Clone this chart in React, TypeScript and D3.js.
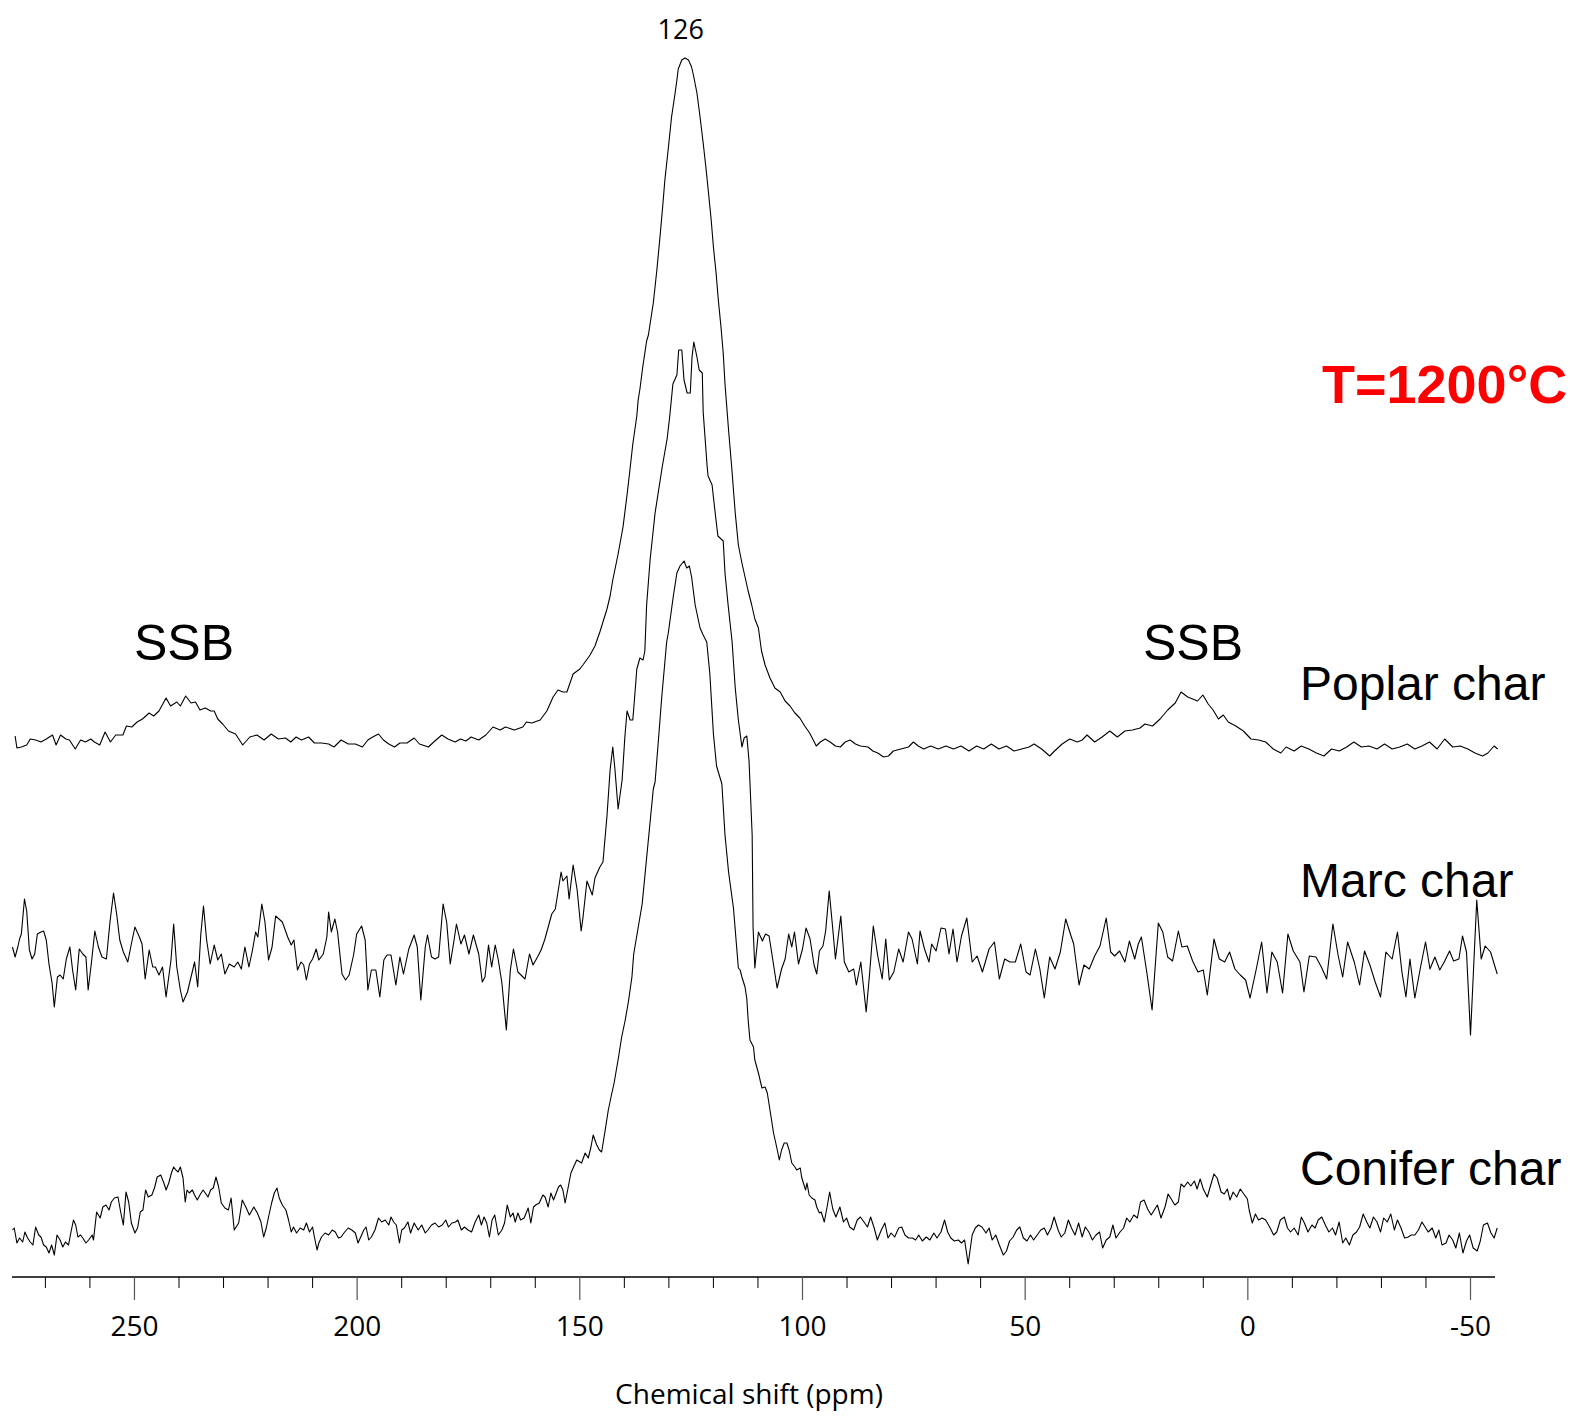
import React from "react";
import * as d3 from "d3";

// ---- data: [chemical shift (ppm), intensity above each trace's own baseline (a.u.)]
const poplar: [number, number][] = [
[276.8,9],[276.4,-3],[275.4,-2],[274.2,0],[273.4,6],[272.2,5],[271.0,3],[269.8,6],[268.4,10],[267.6,0],[266.6,10],[265.4,6],[264.6,5],[263.3,-4],[262.1,5],[261.0,3],[259.8,6],[259.0,3],[257.8,0],[256.6,13],[255.4,3],[254.2,10],[252.6,10],[251.8,19],[250.6,18],[249.4,23],[248.2,26],[246.7,32],[245.7,29],[244.5,34],[242.9,47],[241.9,39],[240.5,43],[239.7,39],[238.5,49],[237.3,42],[236.3,43],[235.3,35],[234.1,37],[232.9,34],[232.1,34],[231.3,26],[230.2,21],[228.9,14],[227.3,11],[225.7,0],[224.1,8],[222.5,10],[220.9,5],[219.3,11],[217.7,6],[216.1,7],[214.9,3],[213.7,8],[212.5,5],[210.9,8],[209.6,2],[208.0,2],[206.4,1],[205.2,-2],[203.6,5],[202.0,1],[200.4,1],[198.8,-2],[197.6,5],[196.5,8],[195.2,11],[194.1,5],[192.9,1],[191.6,-2],[190.4,2],[188.8,2],[187.2,7],[186.0,1],[184.0,-2],[182.8,3],[181.0,10],[179.6,6],[178.0,3],[176.8,6],[175.6,4],[174.4,8],[172.7,5],[171.1,10],[169.5,18],[167.9,15],[166.7,18],[164.7,15],[162.8,18],[162.0,23],[160.8,22],
[158.9,25],[157.4,34],[156.0,48],[154.9,55],[153.8,53],[152.9,53],[152.2,62],[151.5,71],[150.0,76],[149.3,80],[147.7,90],[146.6,99],[145.5,113],[143.9,136],[143.2,149],[142.6,165],[141.4,191],[140.3,218],[139.4,250],[138.8,273],[138.1,301],[137.2,329],[136.9,345],[136.5,356],[135.9,377],[135.0,404],[134.6,410],[133.5,442],[132.7,475],[132.0,508],[131.4,538],[130.9,565],[130.1,598],[129.4,628],[128.6,652],[128.2,665],[127.9,676],[127.1,685],[126.4,687],[125.6,685],[124.9,678],[124.4,668],[123.7,652],[123.0,628],[122.3,602],[121.7,578],[121.1,552],[120.5,525],[120.0,498],[119.4,472],[118.9,445],[118.3,418],[117.8,392],[117.4,361],[116.6,315],[115.9,278],[115.1,232],[114.4,200],[113.6,182],[112.9,168],[112.2,154],[111.4,140],[110.7,126],[109.9,117],[109.2,94],[108.4,80],[107.3,67],[106.2,57],[105.0,53],[103.9,44],[102.8,39],[101.7,32],[100.6,27],[99.5,19],[98.4,12],[97.7,6],
[96.9,-1],[96.0,3],[94.9,6],[93.8,3],[92.6,-1],[91.5,-2],[90.4,3],[89.3,5],[88.1,1],[87.0,-1],[85.3,-2],[84.2,-6],[83.1,-8],[81.8,-12],[80.7,-11],[79.6,-6],[77.9,-4],[76.2,-2],[75.1,3],[74.0,-1],[72.8,-4],[71.2,-1],[69.5,-4],[67.8,-1],[66.1,-4],[64.4,-1],[62.6,-6],[60.9,-1],[59.3,-4],[57.6,1],[55.9,-4],[54.2,-1],[52.5,-6],[50.8,-4],[49.1,-2],[48.0,1],[46.3,-4],[44.5,-11],[43.4,-6],[41.7,1],[40.0,6],[38.3,3],[37.2,5],[36.1,10],[34.4,3],[32.7,8],[31.0,14],[29.3,8],[27.6,14],[25.9,15],[24.2,17],[23.1,21],[21.4,19],[19.7,26],[18.0,35],[16.3,42],[15.0,53],[13.5,48],[12.4,46],[11.3,44],[10.1,50],[8.9,41],[7.8,35],[6.6,26],[5.5,30],[4.4,23],[2.7,19],[1.0,14],[-0.7,6],[-2.4,5],[-4.0,3],[-5.7,-4],[-7.4,-8],[-8.6,-2],[-10.4,-6],[-12.0,-1],[-13.7,-4],[-15.4,-8],[-17.1,-11],[-18.8,-4],[-20.5,-6],[-22.2,-2],[-23.8,3],[-25.5,-2],[-27.2,-1],[-29.0,-4],[-30.7,1],[-32.4,-4],[-34.1,-2],[-35.8,1],[-37.5,-4],[-39.1,-1],[-40.8,3],[-42.5,-4],[-44.2,6],[-46.0,-2],[-47.7,-1],[-49.4,-4],[-51.0,-8],[-52.7,-11],[-53.9,-8],[-55.3,-1],[-56.1,-4]
];

const marc: [number, number][] = [
[277.4,8],[276.8,-2],[276.2,8],[275.8,16],[275.4,21],[274.7,56],[274.2,44],[273.6,5],[273.0,-4],[272.4,1],[271.8,21],[271.0,23],[270.4,24],[269.8,15],[269.2,-9],[268.5,-28],[268.0,-52],[267.3,-22],[266.7,-20],[266.0,-24],[265.3,-4],[264.5,8],[263.9,-15],[263.2,-35],[262.4,6],[261.6,1],[260.9,-2],[260.4,-35],[259.7,-9],[258.9,24],[258.1,8],[257.3,-2],[256.3,-4],[255.5,33],[254.7,62],[254.0,41],[253.3,15],[252.5,3],[251.5,-7],[250.7,11],[249.9,28],[248.9,18],[248.3,11],[247.6,-24],[246.7,5],[245.9,-12],[245.3,-12],[244.5,-20],[243.7,-12],[242.9,-42],[241.8,-5],[241.2,31],[240.5,-12],[239.7,-35],[239.1,-47],[238.1,-37],[237.3,-22],[236.5,-7],[235.8,-32],[235.1,21],[234.5,49],[233.8,15],[233.0,-9],[232.1,10],[231.3,-5],[230.5,1],[229.7,-19],[228.7,-9],[227.6,-12],[226.8,-7],[226.0,-14],[225.2,8],[224.3,-12],[223.5,5],[222.8,23],[222.3,18],[221.4,51],[220.7,33],[219.9,-5],[219.1,8],[218.3,39],[216.8,33],[215.6,18],[214.8,10],[214.2,15],[213.4,-15],[212.6,-7],[212.0,-10],[211.4,-25],[210.7,-9],[210.0,-4],[209.2,6],[208.6,-5],[207.6,1],[206.8,18],[206.4,43],[205.8,23],[205.0,36],[204.4,23],[203.4,-19],[202.6,-25],[201.8,-20],[200.8,0],[200.1,21],[199.0,29],[198.2,15],[197.6,-35],[196.8,-15],[195.8,-15],[194.9,-42],[194.0,-5],[193.3,0],[192.4,0],[191.3,-30],[190.4,-2],[189.6,-19],[188.4,6],[187.2,20],[186.5,8],[185.7,-45],[184.7,8],[184.2,20],[183.3,-2],[182.5,-4],[181.7,-2],[180.7,51],[179.9,33],[179.1,-9],[178.3,13],[177.7,31],[176.7,11],[175.9,20],[174.9,1],[173.9,20],[172.7,1],[171.9,-27],[171.3,-22],[170.5,10],[169.8,-12],[169.0,10],[168.3,-5],[167.5,-28],[166.5,-75],[165.6,-15],[164.9,6],[163.9,-17],[162.3,-24],[161.3,1],[160.5,-10],[159.5,-2],[158.7,5],[157.9,15],[157.1,28],[156.3,41],[155.5,46],
[154.9,63],[154.2,83],[153.8,74],[152.9,79],[152.4,56],[151.5,90],[150.6,65],[149.7,24],[149.3,37],[148.4,74],[147.2,60],[146.6,77],[145.5,88],[144.8,93],[143.9,139],[143.2,185],[142.6,208],[142.1,185],[141.4,146],[140.5,175],[139.9,217],[139.4,244],[138.7,235],[138.1,235],[137.6,263],[137.2,286],[136.5,297],[135.8,295],[135.4,304],[135.0,350],[134.2,396],[133.1,442],[131.5,488],[130.4,516],[129.8,539],[129.1,571],[128.2,580],[127.8,605],[127.1,605],[126.6,575],[125.9,562],[125.2,562],[124.8,598],[124.4,613],[123.7,598],[123.2,585],[122.5,582],[122.3,543],[121.4,488],[121.2,479],[120.3,470],[119.6,442],[119.0,419],[117.8,414],[117.4,382],[116.7,350],[115.8,313],[115.1,267],[114.4,235],[113.6,208],[113.1,217],[112.5,219],[112.0,194],[111.3,120],[111.1,28],[110.7,-13],
[109.9,23],[109.0,14],[108.3,21],[107.5,19],[106.7,-4],[105.7,-33],[104.7,-14],[103.9,-4],[103.1,21],[102.4,8],[101.8,23],[100.9,-9],[100.0,6],[99.2,27],[98.3,16],[97.4,-10],[96.8,-19],[96.2,4],[95.4,9],[94.8,24],[94.0,64],[93.2,26],[92.6,-4],[91.4,39],[90.6,-7],[89.6,-17],[88.5,-14],[87.9,-30],[86.9,-7],[85.7,-57],[84.9,-17],[84.1,29],[83.1,-1],[82.1,-24],[81.3,16],[80.5,-25],[79.5,-17],[78.4,6],[77.4,-7],[76.2,23],[75.4,16],[74.2,-9],[73.6,24],[72.6,6],[71.6,-7],[71.0,11],[70.0,4],[68.9,27],[67.9,26],[67.1,1],[66.2,26],[65.3,-7],[64.3,19],[63.1,37],[61.9,-7],[60.8,-1],[59.6,-17],[58.1,6],[56.9,13],[55.8,-24],[54.6,-4],[53.4,-7],[52.2,-7],[51.0,11],[49.8,-17],[48.9,-20],[47.7,6],[46.7,-14],[45.7,-43],[44.5,-2],[43.3,-14],[42.1,3],[40.9,36],[39.7,19],[39.1,11],[37.9,-30],[36.8,-10],[35.6,-14],[34.4,-1],[33.2,9],[31.8,37],[30.8,3],[29.9,-1],[28.8,4],[27.6,-7],[26.6,14],[25.4,-4],[24.6,11],[23.9,18],[22.7,-17],[21.5,-55],[20.1,32],[19.1,23],[18.0,-2],[16.9,-6],[15.6,24],[14.8,8],[13.6,9],[12.4,-6],[11.2,-17],[10.0,-15],[9.1,-40],[7.6,16],[6.4,-4],[5.2,-7],[4.1,3],[2.9,-14],[1.7,-20],[0.5,-25],[-0.5,-43],[-1.9,-14],[-3.1,13],[-4.3,-38],[-5.4,3],[-6.6,-7],[-7.8,-38],[-9.0,21],[-10.2,4],[-11.7,-7],[-12.6,-37],[-13.8,-1],[-15.3,-2],[-16.5,-12],[-17.7,-24],[-19.1,31],[-20.3,-1],[-21.3,-22],[-22.4,13],[-23.9,-7],[-25.1,-30],[-26.2,4],[-27.4,-10],[-28.6,-27],[-29.8,-42],[-31.0,3],[-32.4,-4],[-33.6,23],[-34.6,-17],[-35.5,-42],[-36.4,-4],[-37.5,-43],[-38.7,-14],[-39.9,13],[-40.9,-14],[-42.0,-2],[-43.1,-15],[-44.1,-7],[-45.3,4],[-46.2,-6],[-47.4,-4],[-48.2,19],[-49.1,3],[-50.0,-80],[-51.4,55],[-52.4,-4],[-53.3,9],[-54.5,3],[-56.0,-19]
];

const conifer: [number, number][] = [
[277.4,2],[277.0,4],[276.4,-11],[275.8,-6],[275.1,-10],[274.6,0],[274.0,-6],[273.4,-10],[272.8,-13],[272.2,5],[271.5,-3],[271.0,-5],[270.4,-13],[269.8,-15],[269.2,-21],[268.6,-13],[268.0,-23],[267.4,-3],[266.7,-8],[266.1,-15],[265.5,-10],[264.8,-13],[264.3,-1],[263.7,12],[263.2,7],[262.7,-5],[262.1,-3],[261.6,-6],[260.9,-11],[260.3,-8],[259.5,-3],[259.2,-8],[258.5,20],[257.7,14],[257.1,25],[256.4,27],[255.7,22],[255.2,30],[254.5,34],[253.7,35],[253.1,20],[252.5,7],[251.9,40],[251.3,30],[250.7,9],[249.9,-1],[249.3,4],[248.7,20],[248.1,22],[247.5,42],[246.9,35],[246.1,37],[245.5,44],[244.9,55],[244.1,57],[243.4,49],[242.9,42],[242.3,49],[241.7,59],[241.2,65],[240.7,62],[240.2,60],[239.7,65],[239.1,54],[238.6,30],[238.2,42],[237.7,39],[237.0,42],[236.5,37],[235.9,32],[235.3,37],[234.6,42],[234.1,39],[233.5,35],[232.9,42],[232.3,44],[231.7,55],[231.1,45],[230.5,29],[229.7,24],[228.9,22],[228.3,34],[227.6,2],[226.6,9],[225.8,32],[225.0,25],[224.2,17],[223.2,25],[222.4,19],[221.6,10],[221.0,-5],[220.4,4],[219.9,15],[219.2,29],[218.6,39],[218.0,44],[217.5,34],[216.8,27],[216.0,22],[215.4,12],[214.8,0],[214.3,5],[213.6,-1],[212.8,4],[212.0,2],[211.4,9],[210.7,0],[210.0,5],[209.6,-5],[209.0,-18],[208.6,-11],[208.0,-5],[207.2,-1],[206.4,-3],[205.6,2],[204.9,0],[204.2,-6],[203.6,-5],[202.8,0],[202.0,4],[201.2,2],[200.4,-1],[199.8,-11],[199.2,-5],[198.5,2],[198.0,5],[197.4,-8],[196.8,-5],[196.0,2],[195.2,14],[194.5,10],[193.7,12],[192.9,7],[192.4,15],[191.8,10],[191.2,7],[190.5,-11],[190.0,2],[189.4,4],[188.6,10],[188.0,-1],[187.2,9],[186.3,2],[185.5,7],[184.7,-1],[184.1,2],[183.3,7],[182.5,9],[181.7,5],[180.9,7],[180.1,12],[179.5,5],[178.7,9],[177.9,10],[177.4,12],[176.6,2],[175.9,5],[175.1,2],[174.3,0],[173.5,10],[172.7,17],[172.1,7],[171.5,15],[170.9,9],[170.3,-5],[169.7,12],[169.1,17],[168.3,-3],[167.5,2],[166.9,9],[166.3,27],[165.6,15],[165.0,19],[164.5,10],[163.9,19],[163.3,12],[162.5,14],[161.6,24],[161.0,9],[160.4,25],[159.9,27],[159.1,29],
[158.3,37],[157.8,35],[157.1,25],[156.5,39],[155.9,32],[155.3,39],[154.8,45],[154.3,47],[153.8,42],[153.3,29],[152.6,45],[152.0,59],[151.5,64],[150.7,72],[149.6,69],[148.8,79],[148.1,74],[147.5,85],[147.0,97],[146.2,87],[145.6,82],[145.1,80],[144.3,102],[143.6,122],[142.8,139],[142.3,149],[141.3,175],[140.6,195],[139.8,212],[139.1,230],[138.3,255],[137.9,278],[136.0,328],[135.0,374],[133.5,443],[133.1,450],[132.4,489],[131.6,535],[130.5,590],[130.1,600],[129.0,636],[128.2,659],[127.5,666],[126.6,671],[126.0,664],[125.4,666],[124.9,655],[124.1,627],[123.0,604],[122.3,597],[121.5,590],[120.8,558],[120.0,498],[119.3,466],[118.1,448],[117.4,397],[116.6,360],[115.5,324],[114.4,264],[114.0,262],[113.6,255],[112.9,245],[112.5,233],[112.2,212],[111.8,192],[111.0,185],[110.7,172],[109.9,159],[109.1,144],[108.4,145],[107.9,139],[107.3,122],[106.5,99],[105.8,85],[105.2,72],[104.7,82],[104.1,89],[103.5,89],[103.0,82],[102.4,69],[101.7,65],[101.3,62],[100.5,64],[100.2,55],[99.8,49],[99.3,42],[99.0,49],[98.5,37],[97.9,34],[97.2,32],[96.8,25],[96.2,19],
[95.8,20],[95.1,10],[94.4,27],[93.9,40],[93.2,23],[92.5,15],[91.6,25],[90.8,10],[90.1,14],[89.4,5],[88.5,2],[87.7,12],[87.0,15],[86.2,10],[85.4,5],[84.7,15],[83.9,4],[83.2,-8],[82.3,2],[81.5,9],[80.8,-6],[80.1,-1],[79.3,-5],[78.4,4],[77.7,5],[77.0,-3],[76.2,-6],[75.3,-6],[74.6,-8],[73.9,-3],[73.1,-9],[72.2,-5],[71.4,-8],[70.5,-1],[69.8,-6],[68.9,0],[68.1,12],[67.4,0],[66.7,-6],[65.9,-9],[65.0,-8],[64.3,-11],[63.6,-8],[62.8,-32],[61.9,-3],[61.2,4],[60.5,7],[59.7,5],[58.8,-1],[58.1,4],[57.4,-8],[56.6,-3],[55.8,-13],[54.9,-23],[54.2,-19],[53.5,-9],[52.7,-5],[51.9,2],[51.2,5],[50.4,-6],[49.6,-9],[48.8,-3],[48.1,-8],[47.3,-3],[46.5,2],[45.7,4],[45.0,-3],[44.2,4],[43.5,15],[42.6,2],[41.9,-5],[41.1,-1],[40.3,12],[39.6,4],[38.8,-3],[38.0,9],[37.2,-5],[36.5,5],[35.7,0],[34.9,-8],[34.1,-3],[33.3,0],[32.6,-16],[31.8,-8],[31.0,-5],[30.3,7],[29.6,-6],[28.7,0],[27.9,4],[27.2,14],[26.5,10],[25.6,17],[24.8,14],[24.1,30],[23.3,32],[22.5,23],[21.7,17],[21.0,22],[20.3,27],[19.5,14],[18.6,25],[17.9,38],[17.2,33],[16.4,27],[15.6,30],[15.0,48],[14.3,45],[13.5,50],[12.8,46],[12.0,51],[11.4,43],[10.7,53],[10.0,43],[9.1,35],[8.4,46],[7.6,58],[6.9,54],[6.0,40],[5.3,38],[4.6,43],[4.0,32],[3.3,40],[2.5,35],[1.7,43],[0.9,38],[0.1,33],[-0.3,22],[-1.0,9],[-1.7,18],[-2.4,12],[-3.2,14],[-4.0,12],[-4.9,5],[-5.8,-3],[-6.5,0],[-7.3,12],[-8.2,15],[-8.9,4],[-9.6,0],[-10.4,4],[-11.3,-3],[-12.0,15],[-12.7,9],[-13.5,0],[-14.4,7],[-15.1,4],[-15.8,12],[-16.6,15],[-17.4,7],[-18.2,0],[-19.0,4],[-19.7,-3],[-20.5,10],[-21.3,-11],[-22.0,-6],[-22.8,-13],[-23.6,-3],[-24.4,0],[-25.1,5],[-25.9,18],[-26.7,10],[-27.4,4],[-28.2,15],[-29.0,10],[-29.8,0],[-30.5,14],[-31.3,10],[-32.1,18],[-32.9,2],[-33.6,12],[-34.4,4],[-35.2,-6],[-36.0,-5],[-36.7,-3],[-37.5,-3],[-38.3,2],[-39.1,10],[-39.8,5],[-40.5,0],[-41.4,4],[-42.2,-6],[-42.9,2],[-43.6,-13],[-44.5,-11],[-45.2,-3],[-46.0,-8],[-46.7,-16],[-47.5,-1],[-48.3,-21],[-49.1,-9],[-49.8,-3],[-50.6,-16],[-51.5,-19],[-52.2,-9],[-52.9,7],[-53.8,9],[-54.6,-1],[-55.3,-6],[-56.0,4]
];

const seriesNames = ["Poplar char", "Marc char", "Conifer char"];
const seriesOffsets = [532, 322, 45]; // vertical stacking offsets (a.u.)
const majorTicks = [250, 200, 150, 100, 50, 0, -50];
const minorTicks = [270, 260, 240, 230, 220, 210, 190, 180, 170, 160, 140, 130, 120, 110, 90, 80, 70, 60, 40, 30, 20, 10, -10, -20, -30, -40];
const peakLabel = "126";
const axisTitle = "Chemical shift (ppm)";
const tempLabel = "T=1200°C";
const ssbLabel = "SSB";

export default function App() {
  const W = 1570, H = 1417;
  const axisY = 1277;
  const x = d3.scaleLinear().domain([277.5, -55.5]).range([12, 1495]);
  const y = d3.scaleLinear().domain([0, 1277]).range([axisY, 0]);
  const all = [poplar, marc, conifer];
  const sans = "'Liberation Sans', Arial, sans-serif";
  const cal = "'Open Sans', 'Noto Sans', sans-serif";

  const labelY = [700, 897, 1185];

  return (
    <svg width={W} height={H} style={{ position: "absolute", left: 0, top: 0, background: "#fff" }}>
      {all.map((data, i) => {
        const line = d3
          .line<[number, number]>()
          .x((d) => x(d[0]))
          .y((d) => y(seriesOffsets[i] + d[1]));
        return (
          <path key={i} d={line(data) || ""} fill="none" stroke="#000" strokeWidth={1.1} strokeLinejoin="round" />
        );
      })}
      {/* axis */}
      <line x1={x(277.5)} x2={x(-55.5)} y1={axisY} y2={axisY} stroke="#000" strokeWidth={1.4} />
      {minorTicks.map((t) => (
        <line key={"m" + t} x1={x(t)} x2={x(t)} y1={axisY} y2={axisY + 11} stroke="#000" strokeWidth={1} />
      ))}
      {majorTicks.map((t) => (
        <line key={"M" + t} x1={x(t)} x2={x(t)} y1={axisY} y2={axisY + 23} stroke="#555" strokeWidth={1.2} />
      ))}
      {majorTicks.map((t) => (
        <text key={"l" + t} x={x(t)} y={1336} textAnchor="middle" fontFamily={cal} fontSize={28} fill="#000">
          {String(t)}
        </text>
      ))}
      <text x={749} y={1404} textAnchor="middle" fontFamily={cal} fontSize={28} fill="#000">{axisTitle}</text>
      <text x={x(126)} dx={-6} y={39} textAnchor="middle" fontFamily={cal} fontSize={27} fill="#000">{peakLabel}</text>
      <text x={184} y={660} textAnchor="middle" fontFamily={sans} fontSize={50} fill="#000">{ssbLabel}</text>
      <text x={1193} y={660} textAnchor="middle" fontFamily={sans} fontSize={50} fill="#000">{ssbLabel}</text>
      {seriesNames.map((n, i) => (
        <text key={n} x={1300} y={labelY[i]} fontFamily={sans} fontSize={48} fill="#000">{n}</text>
      ))}
      <text x={1322} y={403} fontFamily={sans} fontSize={54} fontWeight="bold" fill="#FF0000">{tempLabel}</text>
    </svg>
  );
}
